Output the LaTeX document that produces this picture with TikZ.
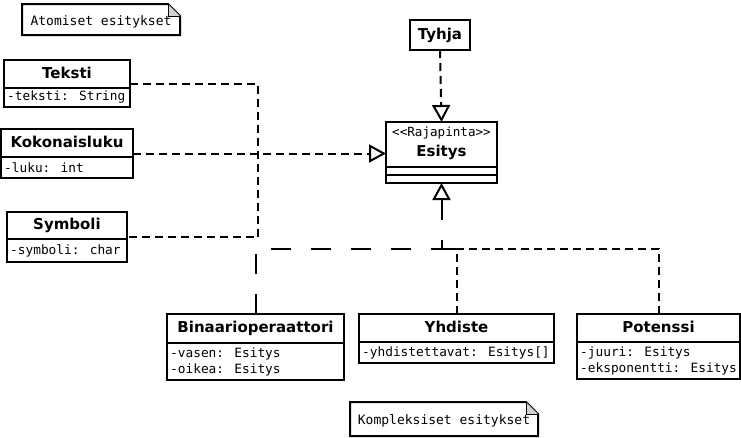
\documentclass[tikz,border=0pt]{standalone}
\usepackage{fontspec}
\setmainfont{DejaVu Sans}
\newfontfamily\monof{DejaVu Sans Mono}
\usetikzlibrary{arrows.meta,fit,calc}
\tikzset{
  box/.style={draw, line width=2pt, inner sep=0pt, outer sep=0pt, fill=white},
  hdr/.style={box, font=\fontsize{15}{18}\selectfont\bfseries, anchor=north west, text height=11pt, text depth=3pt},
  attr/.style={box, anchor=north west},
  attrtext/.style={inner sep=0pt, anchor=west, align=left, font=\monof\fontsize{12.8}{16}\selectfont},
  stereo/.style={inner sep=0pt, font=\monof\fontsize{12.6}{14}\selectfont},
  esttitle/.style={inner sep=0pt, font=\fontsize{15}{18}\selectfont\bfseries},
  frame/.style={inner sep=0pt, outer sep=0pt},
  conn/.style={line width=2pt},
  shortdash/.style={conn, dash pattern=on 8pt off 5pt},
  longdash/.style={conn, dash pattern=on 20pt off 20pt},
  realize/.style={-{Triangle[open, length=17pt, width=18pt]}},
  notebox/.style={inner sep=0pt, outer sep=0pt, anchor=north west, font=\monof\fontsize{13}{16}\selectfont},
}
\newcommand\umlclass[8]{%
  \node[hdr, minimum width=#4pt, minimum height=#5pt] (#1H) at (#2,#3) {#7};
  \node[attr, minimum width=#4pt, minimum height=#6pt] (#1A) at (#1H.south west) {};
  \node[attrtext] (#1T) at ($(#1A.west)+(3,0)$) {#8};
  \node[frame, fit=(#1H)(#1A)] (#1) {};
}
\newcommand\umlnote[5]{%
  \node[notebox, minimum width=#4pt, minimum height=#5pt] (#1) at (#2,#3) {};
  \draw[line width=2pt, fill=white] (#1.north west) -- ($(#1.north east)+(-12,0)$) -- ($(#1.north east)+(0,12)$) -- (#1.south east) -- (#1.south west) -- cycle;
  \draw[line width=1pt, fill=gray!35] ($(#1.north east)+(-12,0)$) -- ($(#1.north east)+(-12,12)$) -- ($(#1.north east)+(0,12)$);
}
\begin{document}
\begin{tikzpicture}[x=1pt,y=-1pt]
\useasboundingbox (0,0) rectangle (741,437);

% notes
\umlnote{atom}{22}{4}{158}{31}
\node[notebox, anchor=center] (atomT) at ($(atom.center)+(0,2)$) {Atomiset esitykset};
\umlnote{kompl}{350}{402}{188}{34}
\node[notebox, anchor=center] (komplT) at ($(kompl.center)+(0,2)$) {Kompleksiset esitykset};

% classes
\umlclass{teksti}{4}{60}{126}{28}{19}{Teksti}{-teksti: String}
\umlclass{kokonais}{1}{129}{132}{28}{21}{Kokonaisluku}{-luku: int}
\umlclass{symboli}{7}{212}{120}{27}{23}{Symboli}{-symboli: char}
\umlclass{binaari}{167}{314}{177}{29}{37}{Binaarioperaattori}{-vasen: Esitys\\-oikea: Esitys}
\umlclass{yhdiste}{359}{314}{195}{28}{21}{Yhdiste}{-yhdistettavat: Esitys[]}
\umlclass{potenssi}{577}{314}{163}{28}{37}{Potenssi}{-juuri: Esitys\\-eksponentti: Esitys}

% Tyhja
\node[hdr, minimum width=60pt, minimum height=30pt] (tyhja) at (410,20) {Tyhja};

% Esitys interface
\node[box, anchor=north west, minimum width=111pt, minimum height=45pt] (esitysH) at (386,122) {};
\node[box, anchor=north west, minimum width=111pt, minimum height=8pt] (esitysA) at (esitysH.south west) {};
\node[box, anchor=north west, minimum width=111pt, minimum height=8pt] (esitysM) at (esitysA.south west) {};
\node[frame, fit=(esitysH)(esitysA)(esitysM)] (esitys) {};
\node[stereo] (esitysS) at ($(esitysH.north)+(0,11)$) {<<Rajapinta>>};
\node[esttitle] (esitysT) at ($(esitysH.north)+(0,30)$) {Esitys};

% connectors
\coordinate (jx) at (258,153);
\path (esitys.south) ++(0,66) coordinate (jb);
\draw[shortdash] (teksti.east) -| (jx) |- (symboli.east);
\draw[shortdash, realize] (kokonais.east) -- (kokonais.east -| esitys.west);
\draw[shortdash, realize] (tyhja.south) -- (esitys.north);
\draw[shortdash] (yhdiste.north) |- (jb);
\draw[shortdash] (potenssi.north) |- (jb);
\draw[longdash, realize] (binaari.north) |- (jb) -- (esitys.south);
\end{tikzpicture}
\end{document}
